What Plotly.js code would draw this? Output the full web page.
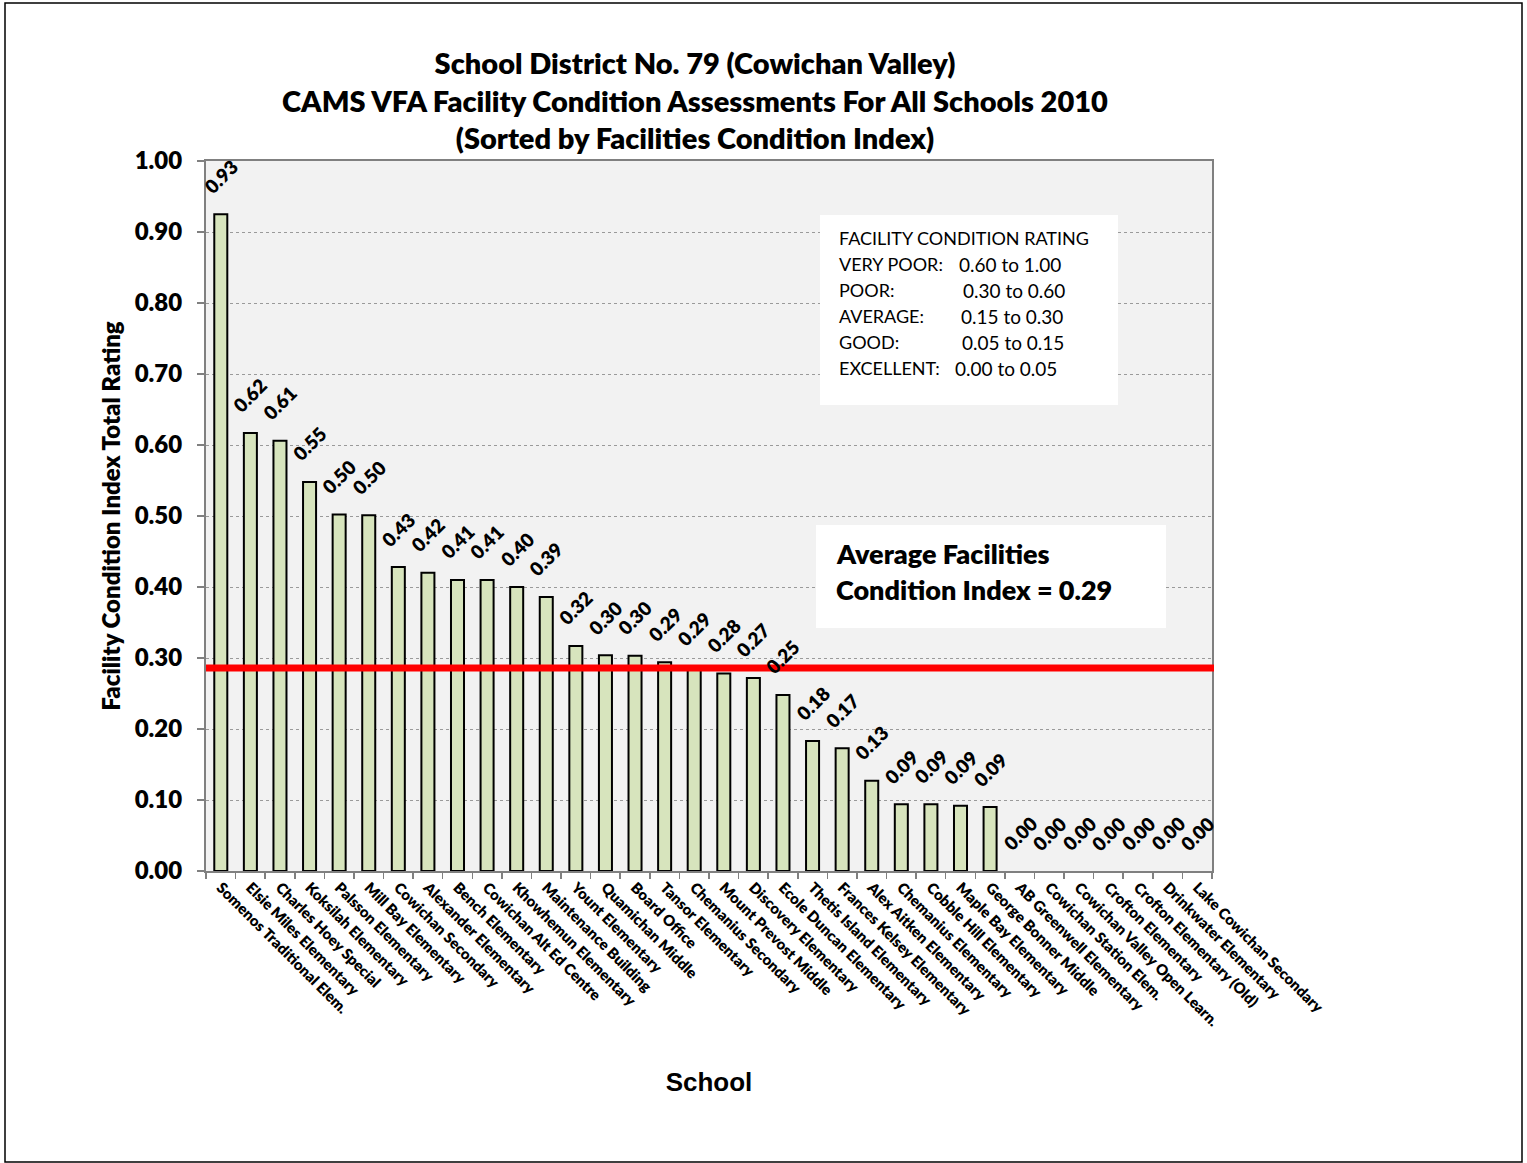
<!DOCTYPE html>
<html>
<head>
<meta charset="utf-8">
<script src="https://cdn.plot.ly/plotly-3.0.1.min.js"></script>
<style>
  html, body { margin: 0; padding: 0; background: #ffffff; }
  #chart { width: 1527px; height: 1163px; }
</style>
</head>
<body>
<div id="chart"></div>
<script>
// ---- Data ----
const schools = [
  "Somenos Traditional Elem.", "Elsie Miles Elementary", "Charles Hoey Special", "Koksilah Elementary",
  "Palsson Elementary", "Mill Bay Elementary", "Cowichan Secondary", "Alexander Elementary",
  "Bench Elementary", "Cowichan Alt Ed Centre", "Khowhemun Elementary", "Maintenance Building",
  "Yount Elementary", "Quamichan Middle", "Board Office", "Tansor Elementary",
  "Chemanius Secondary", "Mount Prevost Middle", "Discovery Elementary", "Ecole Duncan Elementary",
  "Thetis Island Elementary", "Frances Kelsey Elementary", "Alex Aitken Elementary", "Chemanius Elementary",
  "Cobble Hill Elementary", "Maple Bay Elementary", "George Bonner Middle", "AB Greenwell Elementary",
  "Cowichan Station Elem.", "Cowichan Valley Open Learn.", "Crofton Elementary", "Crofton Elementary (Old)",
  "Drinkwater Elementary", "Lake Cowichan Secondary"
];
const fciValues = [
  0.925, 0.617, 0.606, 0.548,
  0.502, 0.501, 0.428, 0.420,
  0.410, 0.410, 0.400, 0.386,
  0.317, 0.304, 0.303, 0.294,
  0.288, 0.278, 0.272, 0.248,
  0.183, 0.173, 0.127, 0.094,
  0.094, 0.092, 0.090, 0.0,
  0.0, 0.0, 0.0, 0.0,
  0.0, 0.0
];
const averageIndex = 0.286;
const ratingNames = ["VERY POOR:", "POOR:", "AVERAGE:", "GOOD:", "EXCELLENT:"];
const ratingRanges = ["0.60 to 1.00", "0.30 to 0.60", "0.15 to 0.30", "0.05 to 0.15", "0.00 to 0.05"];
const yTickVals = [0, 0.1, 0.2, 0.3, 0.4, 0.5, 0.6, 0.7, 0.8, 0.9, 1.0];

// ---- Layout geometry (pixels) ----
const W = 1527, H = 1163;
const PL = 206, PR = 1212, PT = 161, PB = 871;
const px2x = p => (p - PL) / (PR - PL);
const px2y = p => (PB - p) / (PB - PT);
const FONT = "Lato, 'Open Sans', sans-serif";
const ARIAL = "'Liberation Sans', Arial, sans-serif";
const HEAVY = 800;

const barTrace = {
  type: "bar",
  x: schools,
  y: fciValues,
  width: 0.44,
  marker: {
    color: "#d7e4bd",
    line: { color: "#000000", width: fciValues.map(v => v > 0 ? 2 : 0) }
  },
  hoverinfo: "x+y",
  showlegend: false
};

const annotations = [];
// data labels
schools.forEach((s, i) => {
  annotations.push({
    x: s, y: fciValues[i], xref: "x", yref: "y",
    text: fciValues[i].toFixed(2),
    textangle: -45, showarrow: false,
    yshift: 38,
    font: { family: FONT, size: 19, color: "#000", weight: HEAVY }
  });
});
// rating legend box
annotations.push({
  xref: "paper", yref: "paper", x: px2x(837), y: px2y(238),
  xanchor: "left", yanchor: "middle", showarrow: false,
  text: "FACILITY CONDITION RATING",
  font: { family: FONT, size: 18, color: "#000" }
});
const rangeX = [957, 961, 959, 960, 953];
ratingNames.forEach((n, i) => {
  const ly = 264 + 26 * i;
  annotations.push({
    xref: "paper", yref: "paper", x: px2x(837), y: px2y(ly),
    xanchor: "left", yanchor: "middle", showarrow: false,
    text: n, font: { family: FONT, size: 18, color: "#000" }
  });
  annotations.push({
    xref: "paper", yref: "paper", x: px2x(rangeX[i]), y: px2y(ly),
    xanchor: "left", yanchor: "middle", showarrow: false,
    text: ratingRanges[i], font: { family: FONT, size: 19, color: "#000" }
  });
});
// average box
annotations.push({
  xref: "paper", yref: "paper", x: px2x(834), y: px2y(553),
  xanchor: "left", yanchor: "middle", showarrow: false,
  text: "Average Facilities",
  font: { family: FONT, size: 27, color: "#000", weight: HEAVY }
});
annotations.push({
  xref: "paper", yref: "paper", x: px2x(834), y: px2y(589),
  xanchor: "left", yanchor: "middle", showarrow: false,
  text: "Condition Index = " + averageIndex.toFixed(2),
  font: { family: FONT, size: 27, color: "#000", weight: HEAVY }
});

const shapes = [
  // outer frame
  { type: "rect", xref: "paper", yref: "paper", layer: "below",
    x0: px2x(5), x1: px2x(1522), y0: px2y(1162), y1: px2y(3),
    line: { color: "#000", width: 1.5 }, fillcolor: "rgba(0,0,0,0)" },
  // rating legend box
  { type: "rect", xref: "paper", yref: "paper", layer: "above",
    x0: px2x(820), x1: px2x(1118), y0: px2y(405), y1: px2y(215),
    line: { width: 0 }, fillcolor: "#ffffff" },
  // average box
  { type: "rect", xref: "paper", yref: "paper", layer: "above",
    x0: px2x(816), x1: px2x(1166), y0: px2y(628), y1: px2y(525),
    line: { width: 0 }, fillcolor: "#ffffff" },
  // average line
  { type: "line", xref: "paper", yref: "y", layer: "above",
    x0: 0, x1: px2x(1214), y0: averageIndex, y1: averageIndex,
    line: { color: "#ff0000", width: 7 } }
];

const layout = {
  width: W, height: H,
  margin: { l: PL, r: W - PR, t: PT, b: H - PB, pad: 0 },
  paper_bgcolor: "#ffffff",
  plot_bgcolor: "#f2f2f2",
  font: { family: FONT, color: "#000" },
  title: {
    text: "School District No. 79 (Cowichan Valley)<br>CAMS VFA Facility Condition Assessments For All Schools 2010<br>(Sorted by Facilities Condition Index)",
    x: 695 / W, xanchor: "center",
    y: 1 - 74 / H, yanchor: "middle",
    xref: "container", yref: "container",
    font: { family: FONT, size: 29, color: "#000", weight: HEAVY }
  },
  xaxis: {
    type: "category",
    range: [-0.5, schools.length - 0.5],
    autorange: false,
    tickson: "boundaries",
    ticks: "outside", ticklen: 6, tickcolor: "#808080", tickwidth: 1.5,
    tickangle: 45,
    tickfont: { family: FONT, size: 15, color: "#000", weight: HEAVY },
    showline: true, linecolor: "#808080", linewidth: 2, mirror: true,
    showgrid: false,
    automargin: false,
    title: { text: "School", standoff: 44,
      font: { family: ARIAL, size: 26, color: "#000", weight: "bold" } }
  },
  yaxis: {
    range: [0, 1],
    autorange: false,
    tickvals: yTickVals,
    tickformat: ".2f",
    ticks: "outside", ticklen: 7, tickcolor: "#808080", tickwidth: 1.5,
    ticklabelstandoff: 10,
    tickfont: { family: FONT, size: 24, color: "#000", weight: HEAVY },
    showline: true, linecolor: "#808080", linewidth: 2, mirror: true,
    showgrid: true, gridcolor: "#9a9a9a", gridwidth: 1, griddash: "dot",
    zeroline: false,
    automargin: false,
    title: { text: "Facility Condition Index Total Rating", standoff: 7,
      font: { family: FONT, size: 24, color: "#000", weight: HEAVY } }
  },
  annotations: annotations,
  shapes: shapes,
  bargap: 0.56
};

Plotly.newPlot("chart", [barTrace], layout, { displayModeBar: false, staticPlot: true });
</script>
</body>
</html>
